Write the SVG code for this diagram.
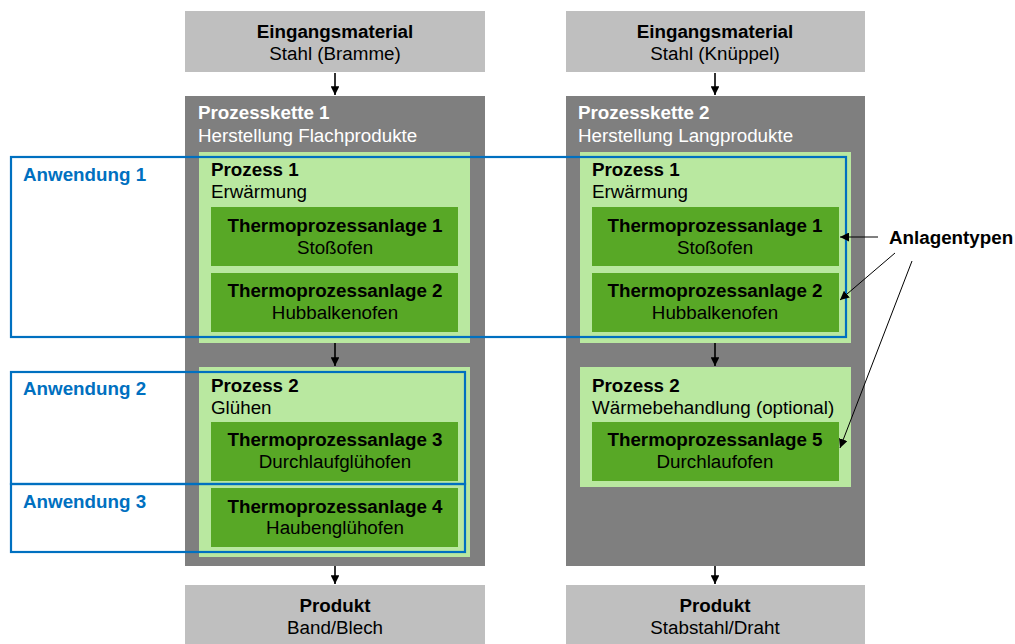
<svg xmlns="http://www.w3.org/2000/svg" width="1015" height="644" viewBox="0 0 1015 644">
<style>
text{font-family:"Liberation Sans",Arial,sans-serif;font-size:18.8px}
.b{font-weight:bold}
.c{text-anchor:middle}
.w{fill:#fff}
.k{fill:#000}
.bl{fill:#0070C0;font-weight:bold}
.lg{fill:#BFBFBF}
.dg{fill:#7F7F7F}
.pg{fill:#B9E8A0}
.tg{fill:#58A826}
.app{fill:none;stroke:#0070C0;stroke-width:2.2}
.ar{stroke:#000;stroke-width:1.6;fill:none;marker-end:url(#ah)}
.ar2{stroke:#000;stroke-width:1;fill:none;marker-end:url(#ah2)}
</style>
<defs>
<marker id="ah" viewBox="0 0 10 10" refX="10" refY="5" markerWidth="5.5" markerHeight="5.5" orient="auto" markerUnits="strokeWidth"><path d="M0,0 L10,5 L0,10 z" fill="#000"/></marker>
<marker id="ah2" viewBox="0 0 10 10" refX="10" refY="5" markerWidth="9" markerHeight="9" orient="auto" markerUnits="strokeWidth"><path d="M0,0 L10,5 L0,10 z" fill="#000"/></marker>
</defs>
<rect width="1015" height="644" fill="#fff"/>

<g id="input1"><rect class="lg" x="185" y="11" width="300" height="61"/>
<text class="b c" x="335" y="38">Eingangsmaterial</text><text class="c" x="335" y="60">Stahl (Bramme)</text></g>
<g id="input2"><rect class="lg" x="566" y="11" width="299" height="61"/>
<text class="b c" x="715" y="38">Eingangsmaterial</text><text class="c" x="715" y="60">Stahl (Knüppel)</text></g>

<g id="chain1"><rect class="dg" x="185" y="96" width="300" height="470"/>
<text class="b w" x="198" y="119">Prozesskette 1</text><text class="w" x="198" y="142">Herstellung Flachprodukte</text></g>
<g id="chain2"><rect class="dg" x="566" y="96" width="299" height="470"/>
<text class="b w" x="578" y="119">Prozesskette 2</text><text class="w" x="578" y="142">Herstellung Langprodukte</text></g>

<g id="p1a"><rect class="pg" x="199" y="152" width="271" height="191"/>
<text class="b" x="211" y="176">Prozess 1</text><text x="211" y="198">Erwärmung</text></g>
<g id="t1a"><rect class="tg" x="211" y="207" width="247" height="59"/>
<text class="b c" x="335" y="232">Thermoprozessanlage 1</text><text class="c" x="335" y="254">Stoßofen</text></g>
<g id="t2a"><rect class="tg" x="211" y="273" width="247" height="59"/>
<text class="b c" x="335" y="297">Thermoprozessanlage 2</text><text class="c" x="335" y="319">Hubbalkenofen</text></g>

<g id="p2a"><rect class="pg" x="199" y="367" width="271" height="190"/>
<text class="b" x="211" y="392">Prozess 2</text><text x="211" y="414">Glühen</text></g>
<g id="t3"><rect class="tg" x="211" y="422" width="247" height="59"/>
<text class="b c" x="335" y="446">Thermoprozessanlage 3</text><text class="c" x="335" y="468">Durchlaufglühofen</text></g>
<g id="t4"><rect class="tg" x="211" y="488" width="247" height="59"/>
<text class="b c" x="335" y="513">Thermoprozessanlage 4</text><text class="c" x="335" y="534">Haubenglühofen</text></g>

<g id="p1b"><rect class="pg" x="580" y="152" width="271" height="191"/>
<text class="b" x="592" y="176">Prozess 1</text><text x="592" y="198">Erwärmung</text></g>
<g id="t1b"><rect class="tg" x="592" y="207" width="247" height="59"/>
<text class="b c" x="715" y="232">Thermoprozessanlage 1</text><text class="c" x="715" y="254">Stoßofen</text></g>
<g id="t2b"><rect class="tg" x="592" y="273" width="247" height="59"/>
<text class="b c" x="715" y="297">Thermoprozessanlage 2</text><text class="c" x="715" y="319">Hubbalkenofen</text></g>

<g id="p2b"><rect class="pg" x="580" y="367" width="271" height="120"/>
<text class="b" x="592" y="392">Prozess 2</text><text x="592" y="414">Wärmebehandlung (optional)</text></g>
<g id="t5"><rect class="tg" x="592" y="422" width="247" height="59"/>
<text class="b c" x="715" y="446">Thermoprozessanlage 5</text><text class="c" x="715" y="468">Durchlaufofen</text></g>

<g id="out1"><rect class="lg" x="185" y="585" width="300" height="59"/>
<text class="b c" x="335" y="612">Produkt</text><text class="c" x="335" y="634">Band/Blech</text></g>
<g id="out2"><rect class="lg" x="566" y="585" width="299" height="59"/>
<text class="b c" x="715" y="612">Produkt</text><text class="c" x="715" y="634">Stabstahl/Draht</text></g>

<g id="app1"><rect class="app" x="11" y="157" width="835" height="180"/><text class="bl" x="23" y="181">Anwendung 1</text></g>
<g id="app2"><rect class="app" x="11" y="372" width="454" height="112"/><text class="bl" x="23" y="395">Anwendung 2</text></g>
<g id="app3"><rect class="app" x="11" y="484" width="454" height="68"/><text class="bl" x="23" y="508">Anwendung 3</text></g>

<g id="label"><text class="b" x="889" y="244">Anlagentypen</text></g>

<g id="connectors">
<line class="ar" x1="335" y1="73" x2="335" y2="95"/>
<line class="ar" x1="715" y1="73" x2="715" y2="95"/>
<line class="ar" x1="335" y1="343" x2="335" y2="366"/>
<line class="ar" x1="715" y1="343" x2="715" y2="366"/>
<line class="ar" x1="335" y1="566" x2="335" y2="584"/>
<line class="ar" x1="715" y1="566" x2="715" y2="584"/>
<line class="ar2" x1="878" y1="237" x2="840" y2="237"/>
<line class="ar2" x1="895" y1="253" x2="840" y2="300"/>
<line class="ar2" x1="912" y1="261" x2="840" y2="448"/>
</g>
</svg>
